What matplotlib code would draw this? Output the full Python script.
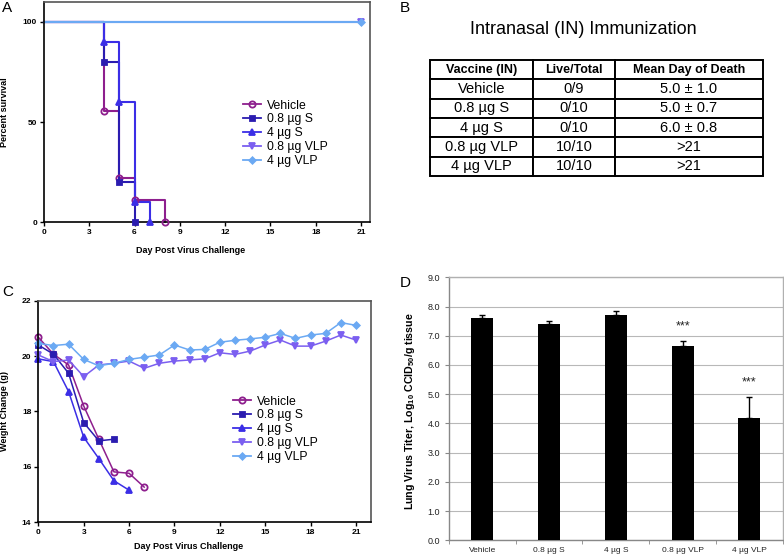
import matplotlib.pyplot as plt
from matplotlib.lines import Line2D

plt.rcParams['font.family'] = ['Liberation Sans', 'DejaVu Sans']
plt.rcParams['mathtext.fontset'] = 'custom'
plt.rcParams['mathtext.rm'] = 'Liberation Sans'
plt.rcParams['mathtext.bf'] = 'Liberation Sans:bold'

groups = ['Vehicle', '0.8 µg S', '4 µg S', '0.8 µg VLP', '4 µg VLP']
colors = ['#8e1f8e', '#2b1cb0', '#3b2ee6', '#7b5ff0', '#6ba9f3']
markers = ['o', 's', '^', 'v', 'D']
msizes = [4.5, 3.6, 4.5, 4.5, 3.3]

# A: survival (days of change, percent surviving)
surv_days = [[0, 4, 5, 6, 8], [0, 4, 5, 6], [0, 4, 5, 6, 7], [0, 21], [0, 21]]
surv_pct = [[100, 55.6, 22.2, 11.1, 0], [100, 80, 20, 0], [100, 90, 60, 10, 0],
            [100, 100], [100, 100]]

# B: table
table_cols = ['Vaccine (IN)', 'Live/Total', 'Mean Day of Death']
live_total = ['0/9', '0/10', '0/10', '10/10', '10/10']
mean_death = ['5.0 ± 1.0', '5.0 ± 0.7', '6.0 ± 0.8', '>21', '>21']

# C: body weight (g) by day
weight_vehicle = [20.68, 20.07, 19.68, 18.2, 17.0, 15.82, 15.77, 15.27]
weight_s08 = [20.4, 20.07, 19.38, 17.6, 16.94, 17.0]
weight_s4 = [19.9, 19.8, 18.72, 17.07, 16.3, 15.5, 15.16]
weight_vlp08 = [20.04, 19.8, 19.86, 19.26, 19.68, 19.74, 19.82, 19.56, 19.74, 19.82, 19.86,
                19.9, 20.12, 20.06, 20.18, 20.4, 20.58, 20.36, 20.36, 20.54, 20.76, 20.58]
weight_vlp4 = [20.46, 20.38, 20.43, 19.88, 19.65, 19.74, 19.88, 19.96, 20.04, 20.4, 20.22,
               20.24, 20.5, 20.57, 20.62, 20.68, 20.82, 20.64, 20.76, 20.82, 21.21, 21.11]
weights = [weight_vehicle, weight_s08, weight_s4, weight_vlp08, weight_vlp4]

# D: lung virus titer
titer = [7.6, 7.4, 7.7, 6.65, 4.2]
titer_err = [0.1, 0.09, 0.16, 0.17, 0.7]
stars = ['', '', '', '***', '***']


def style_prism(ax):
    for s in ax.spines.values():
        s.set_linewidth(1.2)
    ax.spines['top'].set_color('#555555')
    ax.spines['right'].set_color('#555555')
    ax.tick_params(direction='out', length=3, width=1, labelsize=6, pad=2)
    for lab in ax.get_xticklabels() + ax.get_yticklabels():
        lab.set_fontweight('bold')


def handles():
    out = []
    for g, c, m, ms in zip(groups, colors, markers, msizes):
        out.append(Line2D([], [], color=c, marker=m, ms=ms, lw=1.3,
                          mfc='none' if m == 'o' else c, mew=1.3, label=g))
    return out


fig = plt.figure(figsize=(7.84, 5.56), dpi=100)

# ---- A
axA = fig.add_axes([0.0561, 0.6002, 0.4158, 0.3968])
for days, pct, c, m, ms in zip(surv_days, surv_pct, colors, markers, msizes):
    axA.plot(days, pct, drawstyle='steps-post', color=c, lw=1.5, clip_on=False)
    axA.plot(days[1:], pct[1:], ls='none', marker=m, ms=ms, color=c,
             mfc='none' if m == 'o' else c, mew=1.3, clip_on=False, zorder=4)
axA.set_xlim(0, 21.6)
axA.set_ylim(0, 110)
axA.set_xticks(range(0, 22, 3))
axA.set_yticks([0, 50, 100])
style_prism(axA)
axA.set_xlabel('Day Post Virus Challenge', fontsize=6.5, fontweight='bold')
axA.set_ylabel('Percent survival', fontsize=6.5, fontweight='bold')
axA.xaxis.set_label_coords(0.45, -0.107)
axA.yaxis.set_label_coords(-0.108, 0.5)
axA.legend(handles=handles(), loc='upper left', bbox_to_anchor=(0.61, 0.556), frameon=False,
           fontsize=8.8, handlelength=1.5, handletextpad=0.5, labelspacing=0.15, borderpad=0,
           borderaxespad=0)

# ---- B
axB = fig.add_axes([400 / 784, 1 - 200 / 556, 384 / 784, 200 / 556])
axB.axis('off')
cells = [[g, lt, md] for g, lt, md in zip(groups, live_total, mean_death)]
tab = axB.table(cellText=cells, colLabels=table_cols, cellLoc='center',
                colWidths=[0.309, 0.246, 0.444], bbox=[0.078, 0.12, 0.867, 0.58])
tab.auto_set_font_size(False)
for (r, cidx), cell in tab.get_celld().items():
    cell.set_linewidth(1.4)
    if r == 0:
        cell.get_text().set_fontsize(9)
        cell.get_text().set_fontweight('bold')
    else:
        cell.get_text().set_fontsize(10.5)
fig.text(583 / 784, 1 - 30 / 556, 'Intranasal (IN) Immunization', fontsize=13,
         ha='center', va='center')

# ---- C
axC = fig.add_axes([0.0489, 0.0606, 0.4244, 0.3986])
for w, g, c, m, ms in zip(weights, groups, colors, markers, msizes):
    axC.plot(range(len(w)), w, color=c, marker=m, ms=ms, lw=1.1,
             mfc='none' if m == 'o' else c, mew=1.3, clip_on=False, label=g)
axC.set_xlim(0, 22)
axC.set_ylim(14, 22)
axC.set_xticks(range(0, 22, 3))
axC.set_yticks(range(14, 23, 2))
style_prism(axC)
axC.set_xlabel('Day Post Virus Challenge', fontsize=6.5, fontweight='bold')
axC.set_ylabel('Weight Change (g)', fontsize=6.5, fontweight='bold')
axC.xaxis.set_label_coords(0.45, -0.091)
axC.yaxis.set_label_coords(-0.0896, 0.5)
axC.legend(handles=handles(), loc='upper left', bbox_to_anchor=(0.585, 0.572), frameon=False,
           fontsize=8.8, handlelength=1.5, handletextpad=0.5, labelspacing=0.15, borderpad=0,
           borderaxespad=0)

# ---- D
axD = fig.add_axes([0.5727, 0.0282, 0.4256, 0.473])
xs = list(range(len(groups)))
axD.bar(xs, titer, width=0.33, color='black', zorder=3)
axD.errorbar(xs, titer, yerr=[[0] * len(xs), titer_err], fmt='none', ecolor='black',
             elinewidth=1, capsize=2.5, capthick=1, zorder=3)
for x, t, e, s in zip(xs, titer, titer_err, stars):
    if s:
        axD.text(x, t + e + 0.3, s, ha='center', va='bottom', fontsize=9, color='#222222')
axD.set_xlim(-0.5, 4.5)
axD.set_ylim(0, 9)
axD.set_yticks(range(10))
axD.set_yticklabels(['%.1f' % v for v in range(10)])
axD.set_xticks(xs)
axD.set_xticklabels(groups)
axD.set_xticks([x - 0.5 for x in range(len(groups) + 1)], minor=True)
axD.tick_params(axis='x', which='major', length=0, labelsize=6, pad=5, labelcolor='#222222')
axD.tick_params(axis='x', which='minor', length=3, color='#888888')
axD.tick_params(axis='y', length=3, labelsize=6.5, color='#888888', labelcolor='#222222')
axD.yaxis.grid(True, color='#b8b8b8', lw=0.8)
axD.set_axisbelow(True)
for name, s in axD.spines.items():
    s.set_color('#888888' if name in ('left', 'bottom') else '#b0b0b0')
    s.set_linewidth(1)
axD.set_ylabel(r'Lung Virus Titer, Log$_{\mathbf{10}}$ CCID$_{\mathbf{50}}$/g tissue',
               fontsize=7.7, fontweight='bold')
axD.yaxis.set_label_coords(-0.095, 0.49)

# panel letters
fig.text(2 / 784, 1 - 1 / 556, 'A', fontsize=11, va='top')
fig.text(400 / 784, 1 - 1 / 556, 'B', fontsize=11, va='top')
fig.text(2 / 784, 1 - 285 / 556, 'C', fontsize=11, va='top')
fig.text(400 / 784, 1 - 276 / 556, 'D', fontsize=11, va='top')

fig.savefig('out.png', dpi=100)
